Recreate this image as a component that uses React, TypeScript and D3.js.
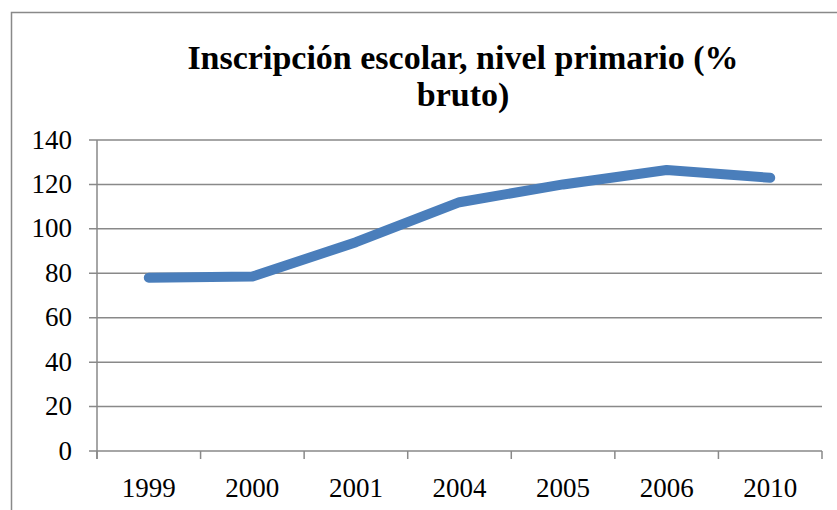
import React from "react";
import * as d3 from "d3";

const categories = ["1999", "2000", "2001", "2004", "2005", "2006", "2010"];
const values = [78, 78.5, 94, 112, 120, 126.5, 123];
const yTicks = [0, 20, 40, 60, 80, 100, 120, 140];
const titleLines = ["Inscripción escolar, nivel primario (%", "bruto)"];

const W = 837;
const H = 510;
const plot = { left: 97, right: 822, top: 140, bottom: 451 };
const FONT = "'Liberation Serif', serif";

export default function App() {
  const x = d3.scaleBand<string>().domain(categories).range([plot.left, plot.right]);
  const y = d3.scaleLinear().domain([0, 140]).range([plot.bottom, plot.top]);
  const line = d3
    .line<number>()
    .x((_, i) => (x(categories[i]) as number) + x.bandwidth() / 2)
    .y((d) => y(d));
  const boundaries = d3.range(categories.length + 1).map((i) => plot.left + i * x.step());
  const grid = "#898989";

  return (
    <svg
      width={W}
      height={H}
      style={{ position: "absolute", left: 0, top: 0, background: "#fff" }}
      fontFamily={FONT}
    >
      <rect x={11.5} y={12.5} width={W} height={H} fill="#fff" stroke={grid} strokeWidth={1.5} />
      {titleLines.map((t, i) => (
        <text
          key={i}
          x={463}
          y={69 + i * 37}
          textAnchor="middle"
          fontWeight="bold"
          fontSize={34}
          fill="#000"
        >
          {t}
        </text>
      ))}
      {yTicks.map((t) => (
        <g key={t}>
          <line x1={plot.left - 8} x2={plot.right} y1={y(t)} y2={y(t)} stroke={grid} strokeWidth={1.5} />
          <text x={72} y={y(t) + 8.5} textAnchor="end" fontSize={27} fill="#000">
            {t}
          </text>
        </g>
      ))}
      <line x1={plot.left} x2={plot.left} y1={plot.top} y2={plot.bottom + 8} stroke={grid} strokeWidth={1.5} />
      {boundaries.map((b, i) => (
        <line key={i} x1={b} x2={b} y1={plot.bottom} y2={plot.bottom + 8} stroke={grid} strokeWidth={1.5} />
      ))}
      {categories.map((c) => (
        <text
          key={c}
          x={(x(c) as number) + x.bandwidth() / 2}
          y={497}
          textAnchor="middle"
          fontSize={27}
          fill="#000"
        >
          {c}
        </text>
      ))}
      <path
        d={line(values) || ""}
        fill="none"
        stroke="#4a7ebb"
        strokeWidth={10}
        strokeLinecap="round"
        strokeLinejoin="round"
      />
    </svg>
  );
}
